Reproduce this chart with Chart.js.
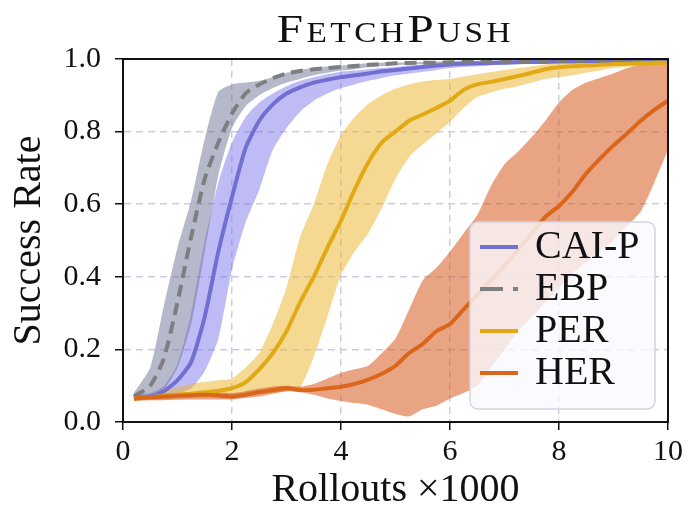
<!DOCTYPE html>
<html>
<head>
<meta charset="utf-8">
<script src="https://cdn.jsdelivr.net/npm/chart.js@4.4.1/dist/chart.umd.min.js"></script>
<style>
html, body { margin: 0; padding: 0; background: #fff; }
#wrap { position: relative; width: 690px; height: 512px; }
#title {
    position: absolute; left: 123px; width: 545px; top: 8px;
    text-align: center; color: #111;
    font-family: 'Liberation Serif', serif; font-size: 41px; line-height: 41px;
    font-variant: small-caps; letter-spacing: 3px; transform: scaleX(1.15);
}
</style>
</head>
<body>
<div id="wrap">
    <div id="title">FetchPush</div>
    <canvas id="chart"></canvas>
</div>
<script>
// Rollouts (x1000)
const xs = [0.2, 0.5, 0.75, 1.0, 1.25, 1.5, 1.75, 2.0, 2.25, 2.5, 2.75, 3.0, 3.25, 3.5, 3.75, 4.0, 4.25, 4.5, 4.75, 5.0,
            5.25, 5.5, 5.75, 6.0, 6.25, 6.5, 6.75, 7.0, 7.25, 7.5, 7.75, 8.0, 8.25, 8.5, 8.75, 9.0, 9.25, 9.5, 9.75, 10.0];

const caiMean = [0.065, 0.07, 0.085, 0.115, 0.165, 0.29, 0.47, 0.62, 0.755, 0.83, 0.875, 0.905, 0.922, 0.935, 0.943, 0.95, 0.955, 0.96, 0.966, 0.97,
                 0.974, 0.978, 0.982, 0.985, 0.987, 0.988, 0.989, 0.99, 0.991, 0.992, 0.992, 0.993, 0.993, 0.994, 0.994, 0.994, 0.995, 0.995, 0.995, 0.995];
const caiHi   = [0.075, 0.08, 0.10, 0.16, 0.30, 0.50, 0.66, 0.77, 0.84, 0.88, 0.905, 0.925, 0.94, 0.95, 0.958, 0.965, 0.968, 0.972, 0.975, 0.978,
                 0.982, 0.985, 0.988, 0.99, 0.991, 0.992, 0.993, 0.994, 0.995, 0.996, 0.996, 0.997, 0.997, 0.998, 0.998, 0.998, 0.998, 0.998, 0.998, 0.998];
const caiLo   = [0.06, 0.062, 0.068, 0.078, 0.093, 0.14, 0.23, 0.42, 0.55, 0.64, 0.75, 0.81, 0.855, 0.885, 0.905, 0.92, 0.93, 0.94, 0.948, 0.955,
                 0.96, 0.965, 0.97, 0.975, 0.978, 0.98, 0.983, 0.985, 0.987, 0.988, 0.989, 0.99, 0.99, 0.991, 0.991, 0.992, 0.992, 0.993, 0.993, 0.993];

const ebpMean = [0.07, 0.10, 0.175, 0.33, 0.51, 0.67, 0.77, 0.85, 0.905, 0.93, 0.947, 0.96, 0.967, 0.972, 0.975, 0.978, 0.981, 0.984, 0.986, 0.988,
                 0.989, 0.99, 0.99, 0.991, 0.992, 0.992, 0.993, 0.993, 0.994, 0.994, 0.995, 0.995, 0.995, 0.996, 0.996, 0.996, 0.996, 0.997, 0.997, 0.997];
const ebpHi   = [0.08, 0.15, 0.32, 0.48, 0.61, 0.78, 0.91, 0.93, 0.935, 0.94, 0.95, 0.962, 0.97, 0.976, 0.979, 0.982, 0.985, 0.988, 0.99, 0.99,
                 0.991, 0.992, 0.993, 0.994, 0.995, 0.995, 0.996, 0.996, 0.997, 0.997, 0.998, 0.998, 0.998, 0.998, 0.999, 0.999, 0.999, 0.999, 0.999, 0.999];
const ebpLo   = [0.062, 0.068, 0.09, 0.15, 0.27, 0.47, 0.68, 0.81, 0.87, 0.90, 0.92, 0.935, 0.945, 0.955, 0.962, 0.968, 0.972, 0.977, 0.98, 0.983,
                 0.985, 0.986, 0.987, 0.988, 0.989, 0.99, 0.99, 0.99, 0.991, 0.991, 0.992, 0.992, 0.993, 0.993, 0.993, 0.994, 0.994, 0.994, 0.995, 0.995];

const perMean = [0.065, 0.068, 0.072, 0.075, 0.078, 0.082, 0.086, 0.093, 0.11, 0.145, 0.19, 0.25, 0.33, 0.40, 0.48, 0.555, 0.64, 0.715, 0.77, 0.80,
                 0.83, 0.847, 0.865, 0.885, 0.915, 0.93, 0.937, 0.945, 0.953, 0.962, 0.972, 0.977, 0.98, 0.982, 0.984, 0.986, 0.987, 0.988, 0.989, 0.99];
const perHi   = [0.07, 0.075, 0.085, 0.095, 0.105, 0.11, 0.115, 0.12, 0.15, 0.19, 0.27, 0.37, 0.51, 0.60, 0.71, 0.79, 0.84, 0.876, 0.90, 0.918,
                 0.93, 0.938, 0.942, 0.945, 0.952, 0.958, 0.964, 0.97, 0.975, 0.98, 0.985, 0.988, 0.99, 0.99, 0.991, 0.992, 0.993, 0.994, 0.995, 0.995];
const perLo   = [0.06, 0.06, 0.062, 0.064, 0.066, 0.068, 0.07, 0.072, 0.075, 0.078, 0.08, 0.085, 0.095, 0.18, 0.29, 0.405, 0.47, 0.52, 0.59, 0.67,
                 0.73, 0.765, 0.795, 0.827, 0.865, 0.895, 0.908, 0.918, 0.925, 0.935, 0.945, 0.95, 0.955, 0.962, 0.968, 0.975, 0.978, 0.982, 0.984, 0.985];

const herMean = [0.065, 0.068, 0.07, 0.072, 0.074, 0.075, 0.073, 0.07, 0.075, 0.082, 0.088, 0.093, 0.088, 0.089, 0.093, 0.097, 0.105, 0.117, 0.133, 0.155,
                 0.19, 0.215, 0.25, 0.27, 0.31, 0.35, 0.39, 0.43, 0.475, 0.52, 0.565, 0.595, 0.635, 0.685, 0.725, 0.762, 0.795, 0.83, 0.86, 0.885];
const herHi   = [0.072, 0.075, 0.078, 0.08, 0.082, 0.083, 0.082, 0.08, 0.085, 0.092, 0.098, 0.10, 0.098, 0.105, 0.12, 0.135, 0.145, 0.155, 0.19, 0.23,
                 0.31, 0.39, 0.425, 0.469, 0.52, 0.57, 0.65, 0.71, 0.745, 0.785, 0.83, 0.88, 0.915, 0.935, 0.948, 0.96, 0.975, 0.985, 0.99, 0.99];
const herLo   = [0.058, 0.06, 0.06, 0.061, 0.062, 0.062, 0.062, 0.062, 0.066, 0.07, 0.078, 0.085, 0.082, 0.075, 0.065, 0.058, 0.052, 0.047, 0.035, 0.022,
                 0.015, 0.035, 0.045, 0.065, 0.08, 0.10, 0.15, 0.20, 0.25, 0.29, 0.33, 0.37, 0.41, 0.44, 0.47, 0.50, 0.54, 0.58, 0.66, 0.75];

const xTicks = [0, 2, 4, 6, 8, 10];
const yTicks = [0.0, 0.2, 0.4, 0.6, 0.8, 1.0];

const SERIF = "'Liberation Serif', 'Times New Roman', serif";

const series = [
    { label: 'CAI-P', mean: caiMean, lo: caiLo, hi: caiHi, line: '#716fd2', band: 'rgba(125,120,235,0.5)', dash: [], legendDash: [] },
    { label: 'EBP',   mean: ebpMean, lo: ebpLo, hi: ebpHi, line: '#7e7e80', band: 'rgba(110,115,150,0.5)', dash: [12, 7], legendDash: [23, 10] },
    { label: 'PER',   mean: perMean, lo: perLo, hi: perHi, line: '#e1aa14', band: 'rgba(235,180,40,0.5)', dash: [], legendDash: [] },
    { label: 'HER',   mean: herMean, lo: herLo, hi: herHi, line: '#d9661a', band: 'rgba(215,90,30,0.55)', dash: [], legendDash: [] }
];

function pts(ys) {
    return ys.map((y, i) => ({ x: xs[i], y: y }));
}

const datasets = [];
series.forEach((s, k) => {
    // shaded band: lower edge, then upper edge filled down to it
    datasets.push({ label: s.label + ' lo', data: pts(s.lo), borderColor: 'rgba(0,0,0,0)', borderWidth: 0,
                    pointRadius: 0, fill: false, tension: 0.2, order: 14 - k });
    datasets.push({ label: s.label + ' hi', data: pts(s.hi), borderColor: 'rgba(0,0,0,0)', borderWidth: 0,
                    backgroundColor: s.band, pointRadius: 0, fill: '-1', tension: 0.2, order: 14 - k });
    datasets.push({ label: s.label, data: pts(s.mean), borderColor: s.line, borderWidth: 4, borderDash: s.dash,
                    pointRadius: 0, fill: false, tension: 0.2, order: 4 - k, isMean: true, legendDash: s.legendDash });
});

// black box round the plot area
const framePlugin = {
    id: 'frame',
    afterDatasetsDraw(chart) {
        const { ctx, chartArea: a } = chart;
        ctx.save();
        ctx.strokeStyle = '#111';
        ctx.lineWidth = 2;
        ctx.strokeRect(a.left, a.top, a.right - a.left, a.bottom - a.top);
        ctx.restore();
    }
};

// legend drawn inside the plot, lower right
const legendPlugin = {
    id: 'insideLegend',
    afterDraw(chart) {
        const { ctx, chartArea: a } = chart;
        const items = chart.data.datasets.filter(d => d.isMean);
        const w = 185, h = 187;
        const x0 = a.right - 13 - w, y0 = a.bottom - 13 - h;
        ctx.save();
        ctx.beginPath();
        ctx.roundRect(x0, y0, w, h, 8);
        ctx.fillStyle = 'rgba(250,249,254,0.8)';
        ctx.fill();
        ctx.strokeStyle = '#d4d3e4';
        ctx.lineWidth = 1.5;
        ctx.stroke();
        ctx.font = '40px ' + SERIF;
        ctx.textBaseline = 'middle';
        items.forEach((d, i) => {
            const y = y0 + 25 + i * 42;
            ctx.beginPath();
            ctx.setLineDash(d.legendDash);
            ctx.moveTo(x0 + 10, y);
            ctx.lineTo(x0 + 48, y);
            ctx.strokeStyle = d.borderColor;
            ctx.lineWidth = 4;
            ctx.stroke();
            ctx.setLineDash([]);
            ctx.fillStyle = '#111';
            ctx.fillText(d.label, x0 + 65, y);
        });
        ctx.restore();
    }
};

new Chart(document.getElementById('chart'), {
    type: 'line',
    data: { datasets: datasets },
    options: {
        responsive: true,
        maintainAspectRatio: false,
        animation: false,
        layout: { padding: { top: 59, right: 22, left: 0, bottom: 0 } },
        plugins: {
            legend: { display: false },
            tooltip: { enabled: false }
        },
        scales: {
            x: {
                type: 'linear',
                min: 0, max: 10,
                afterFit: s => { s.height = 90; },
                afterBuildTicks: s => { s.ticks = xTicks.map(v => ({ value: v })); },
                ticks: { font: { family: SERIF, size: 30 }, color: '#111', padding: 4, maxRotation: 0 },
                grid: { color: '#cbcbe8', lineWidth: 1.5, tickLength: 8, tickColor: '#111', tickWidth: 1.5 },
                border: { dash: [7, 5], color: '#111', width: 2 },
                title: { display: true, text: 'Rollouts ×1000', color: '#111',
                         font: { family: SERIF, size: 40, lineHeight: 1 }, padding: { top: 0, bottom: 2 } }
            },
            y: {
                min: 0, max: 1,
                afterFit: s => { s.width = 123; },
                afterBuildTicks: s => { s.ticks = yTicks.map(v => ({ value: v })); },
                ticks: { font: { family: SERIF, size: 30 }, color: '#111', padding: 14,
                         callback: v => v.toFixed(1) },
                grid: { color: '#cbcbe8', lineWidth: 1.5, tickLength: 8, tickColor: '#111', tickWidth: 1.5 },
                border: { dash: [7, 5], color: '#111', width: 2 },
                title: { display: true, text: 'Success Rate', color: '#111',
                         font: { family: SERIF, size: 40, lineHeight: 1 }, padding: { top: 9, bottom: 0 } }
            }
        }
    },
    plugins: [framePlugin, legendPlugin]
});
</script>
</body>
</html>
